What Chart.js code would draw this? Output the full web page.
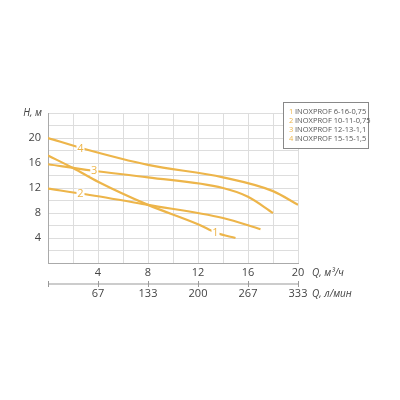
<!DOCTYPE html>
<html><head><meta charset="utf-8">
<script src="https://cdn.jsdelivr.net/npm/chart.js@4"></script>
<style>body{margin:0;background:#fff}#c{width:400px;height:400px}</style>
</head><body><canvas id="c" width="400" height="400"></canvas>
<script>
// --- DADOS ---
const q1 = [0, 2, 4, 8, 12, 13.5, 15];
const h1 = [17.2, 15.2, 13.0, 9.3, 6.2, 4.8, 4];
const q2 = [0, 3, 8, 14, 17];
const h2 = [11.9, 11, 9.3, 7.2, 5.4];
const q3 = [0, 3.5, 8, 14, 16, 18];
const h3 = [15.8, 14.8, 13.7, 12, 10.6, 8];
const q4 = [0, 3, 8, 14, 18, 20];
const h4 = [20, 18.2, 15.7, 13.7, 11.5, 9.3];
const curveLabels = [['1', 13.4, 4.8], ['2', 2.6, 11.1], ['3', 3.7, 14.7], ['4', 2.6, 18.3]];
const legendNames = ['INOXPROF 6-16-0,75', 'INOXPROF 10-11-0,75', 'INOXPROF 12-13-1,1', 'INOXPROF 15-15-1,5'];
const yTicks = [4, 8, 12, 16, 20];
const xTicks = [4, 8, 12, 16, 20];
const xTicks2 = ['67', '133', '200', '267', '333'];

const ORANGE = '#edb54a';
const toPts = (q, h) => q.map((x, i) => ({ x, y: h[i] }));
const ds = (q, h) => ({ data: toPts(q, h), borderColor: ORANGE, borderWidth: 2.2, pointRadius: 0, cubicInterpolationMode: 'monotone', fill: false });

const decor = {
  id: 'decor',
  afterDatasetsDraw(chart) {
    const c = chart.ctx, x = chart.scales.x, y = chart.scales.y;
    c.save();
    c.font = '11px "Open Sans"';
    c.textBaseline = 'middle';
    // rótulos das curvas
    curveLabels.forEach(([t, qx, hy]) => {
      const px = x.getPixelForValue(qx), py = y.getPixelForValue(hy);
      c.fillStyle = '#fff'; c.fillRect(px - 4, py - 5, 8, 10);
      c.fillStyle = ORANGE; c.textAlign = 'center'; c.fillText(t, px, py);
    });
    // eixo Y
    c.fillStyle = '#444'; c.textAlign = 'right';
    yTicks.forEach(v => c.fillText(v, 41, y.getPixelForValue(v)));
    c.font = 'italic 10px "Open Sans"'; c.fillText('Н, м', 42, y.top);
    // eixo X
    c.font = '11px "Open Sans"'; c.textAlign = 'center';
    const ty = y.bottom + 10;
    xTicks.forEach(v => c.fillText(v, x.getPixelForValue(v), ty));
    const ly = y.bottom + 21;
    c.strokeStyle = '#999'; c.lineWidth = 1;
    c.beginPath(); c.moveTo(x.left, ly); c.lineTo(x.right, ly);
    [0, ...xTicks].forEach(v => { const px = Math.round(x.getPixelForValue(v)) + 0.5; c.moveTo(px, ly - 3); c.lineTo(px, ly + 3); });
    c.stroke();
    xTicks2.forEach((t, i) => c.fillText(t, x.getPixelForValue(xTicks[i]), ly + 10));
    c.textAlign = 'left'; c.font = 'italic 10px "Open Sans"';
    c.fillText('Q, м³/ч', x.right + 14, ty);
    c.fillText('Q, л/мин', x.right + 14, ly + 10);
    // legenda
    c.fillStyle = '#fff'; c.fillRect(283, 102, 85, 46);
    c.strokeStyle = '#888'; c.strokeRect(283.5, 102.5, 85, 46);
    c.font = '7.5px "Open Sans"';
    legendNames.forEach((n, i) => {
      const ry = 112 + i * 9;
      c.fillStyle = ORANGE; c.fillText(String(i + 1), 289, ry);
      c.fillStyle = '#555'; c.fillText(n, 295, ry);
    });
    c.restore();
  }
};

new Chart(document.getElementById('c'), {
  type: 'line',
  data: { datasets: [ds(q1, h1), ds(q2, h2), ds(q3, h3), ds(q4, h4)] },
  options: {
    responsive: false, animation: false,
    layout: { padding: { left: 48, right: 102, top: 113, bottom: 137 } },
    plugins: { legend: { display: false }, tooltip: { enabled: false } },
    scales: {
      x: { type: 'linear', min: 0, max: 20, ticks: { display: false, stepSize: 2 },
           grid: { color: '#ddd', drawTicks: false }, border: { color: '#aaa' } },
      y: { min: 0, max: 24, ticks: { display: false, stepSize: 2 },
           grid: { color: '#ddd', drawTicks: false }, border: { color: '#aaa' } }
    }
  },
  plugins: [decor]
});
</script></body></html>
